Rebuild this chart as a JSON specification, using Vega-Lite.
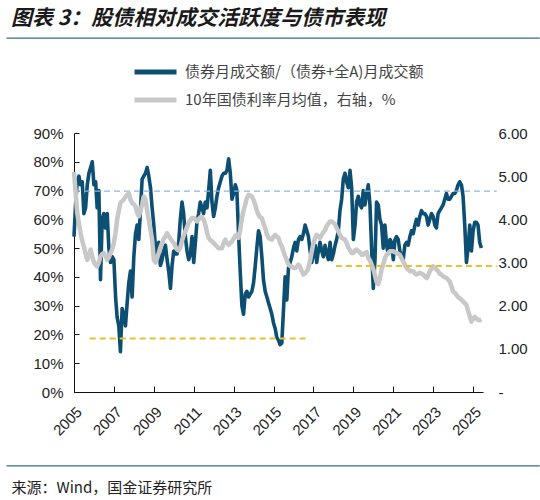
{
"$schema": "https://vega.github.io/schema/vega-lite/v6.json",
"width": 409,
"height": 259,
"autosize": {"type": "none"},
"padding": {"left": 74, "top": 133, "right": 57, "bottom": 108},
"background": "white",
"title": {"text": "图表 3：股债相对成交活跃度与债市表现", "anchor": "start", "frame": "group", "dx": -63, "fontSize": 21, "font": "Noto Sans CJK SC", "fontWeight": "bold", "fontStyle": "italic", "color": "#1a1a1a", "offset": 8},
"config": {"view": {"stroke": null}, "axis": {"grid": false, "labelFont": "Liberation Sans", "labelFontSize": 15, "labelColor": "#222"}},
"datasets": {
"monthly": [
{"date":"2005-01","share":54,"yield":5.1},{"date":"2005-02","share":66,"yield":4.6},{"date":"2005-03","share":73,"yield":4.15},{"date":"2005-04","share":75,"yield":3.9},{"date":"2005-05","share":72,"yield":3.68},{"date":"2005-06","share":73,"yield":3.5},{"date":"2005-07","share":62,"yield":3.37},{"date":"2005-08","share":64,"yield":3.2},{"date":"2005-09","share":72,"yield":3.06},{"date":"2005-10","share":76,"yield":3.15},{"date":"2005-11","share":78,"yield":3.3},{"date":"2005-12","share":80,"yield":3.15},
{"date":"2006-01","share":72,"yield":3.0},{"date":"2006-02","share":73,"yield":2.95},{"date":"2006-03","share":64,"yield":2.91},{"date":"2006-04","share":70,"yield":3.0},{"date":"2006-05","share":39,"yield":3.14},{"date":"2006-06","share":60,"yield":3.2},{"date":"2006-07","share":62,"yield":3.22},{"date":"2006-08","share":57,"yield":3.15},{"date":"2006-09","share":62,"yield":3.06},{"date":"2006-10","share":50,"yield":3.12},{"date":"2006-11","share":45,"yield":3.22},{"date":"2006-12","share":47,"yield":3.3},
{"date":"2007-01","share":46,"yield":3.45},{"date":"2007-02","share":33,"yield":3.7},{"date":"2007-03","share":26,"yield":3.99},{"date":"2007-04","share":23,"yield":4.2},{"date":"2007-05","share":14,"yield":4.38},{"date":"2007-06","share":29,"yield":4.42},{"date":"2007-07","share":27,"yield":4.46},{"date":"2007-08","share":23,"yield":4.52},{"date":"2007-09","share":31,"yield":4.57},{"date":"2007-10","share":38,"yield":4.61},{"date":"2007-11","share":42,"yield":4.45},{"date":"2007-12","share":33,"yield":4.38},
{"date":"2008-01","share":47,"yield":4.35},{"date":"2008-02","share":55,"yield":4.3},{"date":"2008-03","share":58,"yield":4.15},{"date":"2008-04","share":53,"yield":4.07},{"date":"2008-05","share":63,"yield":4.2},{"date":"2008-06","share":74,"yield":4.35},{"date":"2008-07","share":75,"yield":4.53},{"date":"2008-08","share":76,"yield":4.46},{"date":"2008-09","share":78,"yield":4.2},{"date":"2008-10","share":75,"yield":3.99},{"date":"2008-11","share":71,"yield":3.75},{"date":"2008-12","share":64,"yield":3.53},
{"date":"2009-01","share":58,"yield":3.06},{"date":"2009-02","share":50,"yield":3.0},{"date":"2009-03","share":47,"yield":3.1},{"date":"2009-04","share":52,"yield":3.22},{"date":"2009-05","share":44,"yield":3.35},{"date":"2009-06","share":46,"yield":3.45},{"date":"2009-07","share":49,"yield":3.55},{"date":"2009-08","share":51,"yield":3.6},{"date":"2009-09","share":46,"yield":3.68},{"date":"2009-10","share":42,"yield":3.62},{"date":"2009-11","share":36,"yield":3.55},{"date":"2009-12","share":44,"yield":3.5},
{"date":"2010-01","share":49,"yield":3.45},{"date":"2010-02","share":48,"yield":3.37},{"date":"2010-03","share":48,"yield":3.3},{"date":"2010-04","share":52,"yield":3.28},{"date":"2010-05","share":60,"yield":3.35},{"date":"2010-06","share":66,"yield":3.5},{"date":"2010-07","share":62,"yield":3.62},{"date":"2010-08","share":54,"yield":3.72},{"date":"2010-09","share":49,"yield":3.82},{"date":"2010-10","share":46,"yield":3.92},{"date":"2010-11","share":48,"yield":3.98},{"date":"2010-12","share":54,"yield":4.03},
{"date":"2011-01","share":45,"yield":4.03},{"date":"2011-02","share":52,"yield":4.0},{"date":"2011-03","share":59,"yield":3.95},{"date":"2011-04","share":62,"yield":4.0},{"date":"2011-05","share":66,"yield":4.05},{"date":"2011-06","share":64,"yield":4.05},{"date":"2011-07","share":62,"yield":4.0},{"date":"2011-08","share":66,"yield":3.88},{"date":"2011-09","share":64,"yield":3.7},{"date":"2011-10","share":70,"yield":3.57},{"date":"2011-11","share":77,"yield":3.52},{"date":"2011-12","share":66,"yield":3.49},
{"date":"2012-01","share":61,"yield":3.45},{"date":"2012-02","share":64,"yield":3.41},{"date":"2012-03","share":68,"yield":3.37},{"date":"2012-04","share":71,"yield":3.33},{"date":"2012-05","share":73,"yield":3.33},{"date":"2012-06","share":75,"yield":3.33},{"date":"2012-07","share":76,"yield":3.45},{"date":"2012-08","share":76,"yield":3.53},{"date":"2012-09","share":77,"yield":3.45},{"date":"2012-10","share":81,"yield":3.41},{"date":"2012-11","share":76,"yield":3.45},{"date":"2012-12","share":67,"yield":3.49},
{"date":"2013-01","share":69,"yield":3.55},{"date":"2013-02","share":72,"yield":3.62},{"date":"2013-03","share":70,"yield":3.64},{"date":"2013-04","share":55,"yield":3.57},{"date":"2013-05","share":42,"yield":3.75},{"date":"2013-06","share":30,"yield":4.03},{"date":"2013-07","share":27,"yield":4.2},{"date":"2013-08","share":34,"yield":4.34},{"date":"2013-09","share":35,"yield":4.5},{"date":"2013-10","share":33,"yield":4.57},{"date":"2013-11","share":34,"yield":4.55},{"date":"2013-12","share":35,"yield":4.53},
{"date":"2014-01","share":38,"yield":4.45},{"date":"2014-02","share":44,"yield":4.34},{"date":"2014-03","share":50,"yield":4.2},{"date":"2014-04","share":56,"yield":4.11},{"date":"2014-05","share":54,"yield":4.05},{"date":"2014-06","share":47,"yield":4.03},{"date":"2014-07","share":39,"yield":3.9},{"date":"2014-08","share":35,"yield":3.8},{"date":"2014-09","share":33,"yield":3.65},{"date":"2014-10","share":31,"yield":3.57},{"date":"2014-11","share":29,"yield":3.55},{"date":"2014-12","share":27,"yield":3.53},
{"date":"2015-01","share":24,"yield":3.6},{"date":"2015-02","share":22,"yield":3.64},{"date":"2015-03","share":19,"yield":3.6},{"date":"2015-04","share":18,"yield":3.57},{"date":"2015-05","share":16.5,"yield":3.45},{"date":"2015-06","share":17,"yield":3.38},{"date":"2015-07","share":28,"yield":3.26},{"date":"2015-08","share":40,"yield":3.15},{"date":"2015-09","share":32,"yield":3.05},{"date":"2015-10","share":43,"yield":2.95},{"date":"2015-11","share":45,"yield":2.92},{"date":"2015-12","share":47,"yield":2.9},
{"date":"2016-01","share":50,"yield":2.88},{"date":"2016-02","share":52,"yield":2.87},{"date":"2016-03","share":49,"yield":2.9},{"date":"2016-04","share":53,"yield":2.95},{"date":"2016-05","share":54,"yield":2.9},{"date":"2016-06","share":53,"yield":2.8},{"date":"2016-07","share":55,"yield":2.72},{"date":"2016-08","share":58,"yield":2.75},{"date":"2016-09","share":56,"yield":2.8},{"date":"2016-10","share":54,"yield":2.87},{"date":"2016-11","share":49,"yield":3.05},{"date":"2016-12","share":45,"yield":3.26},
{"date":"2017-01","share":48,"yield":3.45},{"date":"2017-02","share":51,"yield":3.57},{"date":"2017-03","share":45,"yield":3.64},{"date":"2017-04","share":49,"yield":3.6},{"date":"2017-05","share":52,"yield":3.57},{"date":"2017-06","share":49,"yield":3.64},{"date":"2017-07","share":47,"yield":3.7},{"date":"2017-08","share":51,"yield":3.75},{"date":"2017-09","share":48,"yield":3.85},{"date":"2017-10","share":46,"yield":3.9},{"date":"2017-11","share":52,"yield":3.95},{"date":"2017-12","share":46,"yield":3.95},
{"date":"2018-01","share":48,"yield":3.92},{"date":"2018-02","share":51,"yield":3.88},{"date":"2018-03","share":53,"yield":3.8},{"date":"2018-04","share":56,"yield":3.72},{"date":"2018-05","share":63,"yield":3.64},{"date":"2018-06","share":67,"yield":3.57},{"date":"2018-07","share":74,"yield":3.55},{"date":"2018-08","share":76,"yield":3.53},{"date":"2018-09","share":73,"yield":3.45},{"date":"2018-10","share":71,"yield":3.35},{"date":"2018-11","share":77,"yield":3.28},{"date":"2018-12","share":71,"yield":3.22},
{"date":"2019-01","share":53,"yield":3.22},{"date":"2019-02","share":58,"yield":3.28},{"date":"2019-03","share":66,"yield":3.3},{"date":"2019-04","share":68,"yield":3.26},{"date":"2019-05","share":65,"yield":3.24},{"date":"2019-06","share":64,"yield":3.18},{"date":"2019-07","share":70,"yield":3.18},{"date":"2019-08","share":65,"yield":3.22},{"date":"2019-09","share":69,"yield":3.24},{"date":"2019-10","share":72,"yield":3.1},{"date":"2019-11","share":65,"yield":3.05},{"date":"2019-12","share":50,"yield":2.95},
{"date":"2020-01","share":36,"yield":2.85},{"date":"2020-02","share":46,"yield":2.7},{"date":"2020-03","share":66,"yield":2.55},{"date":"2020-04","share":65,"yield":2.5},{"date":"2020-05","share":60,"yield":2.64},{"date":"2020-06","share":58,"yield":2.85},{"date":"2020-07","share":50,"yield":2.95},{"date":"2020-08","share":58,"yield":3.1},{"date":"2020-09","share":51,"yield":3.18},{"date":"2020-10","share":48,"yield":3.22},{"date":"2020-11","share":53,"yield":3.26},{"date":"2020-12","share":52,"yield":3.26},
{"date":"2021-01","share":46,"yield":3.26},{"date":"2021-02","share":53,"yield":3.24},{"date":"2021-03","share":54,"yield":3.22},{"date":"2021-04","share":53,"yield":3.2},{"date":"2021-05","share":49,"yield":3.18},{"date":"2021-06","share":47,"yield":3.1},{"date":"2021-07","share":46,"yield":3.02},{"date":"2021-08","share":51,"yield":2.95},{"date":"2021-09","share":52,"yield":2.87},{"date":"2021-10","share":51,"yield":2.84},{"date":"2021-11","share":54,"yield":2.8},{"date":"2021-12","share":56,"yield":2.8},
{"date":"2022-01","share":55,"yield":2.8},{"date":"2022-02","share":58,"yield":2.75},{"date":"2022-03","share":60,"yield":2.72},{"date":"2022-04","share":58,"yield":2.74},{"date":"2022-05","share":61,"yield":2.76},{"date":"2022-06","share":63,"yield":2.74},{"date":"2022-07","share":62,"yield":2.72},{"date":"2022-08","share":62,"yield":2.68},{"date":"2022-09","share":61,"yield":2.64},{"date":"2022-10","share":58,"yield":2.7},{"date":"2022-11","share":60,"yield":2.8},{"date":"2022-12","share":62,"yield":2.86},
{"date":"2023-01","share":61,"yield":2.91},{"date":"2023-02","share":58,"yield":2.88},{"date":"2023-03","share":57,"yield":2.84},{"date":"2023-04","share":62,"yield":2.8},{"date":"2023-05","share":63,"yield":2.74},{"date":"2023-06","share":64,"yield":2.72},{"date":"2023-07","share":65,"yield":2.68},{"date":"2023-08","share":67,"yield":2.66},{"date":"2023-09","share":69,"yield":2.64},{"date":"2023-10","share":67,"yield":2.6},{"date":"2023-11","share":67,"yield":2.56},{"date":"2023-12","share":68,"yield":2.45},
{"date":"2024-01","share":69,"yield":2.33},{"date":"2024-02","share":69,"yield":2.3},{"date":"2024-03","share":70,"yield":2.25},{"date":"2024-04","share":72,"yield":2.2},{"date":"2024-05","share":73,"yield":2.17},{"date":"2024-06","share":72,"yield":2.14},{"date":"2024-07","share":68,"yield":2.1},{"date":"2024-08","share":58,"yield":2.06},{"date":"2024-09","share":45,"yield":2.02},{"date":"2024-10","share":50,"yield":1.88},{"date":"2024-11","share":58,"yield":1.75},{"date":"2024-12","share":49,"yield":1.63},
{"date":"2025-01","share":56,"yield":1.7},{"date":"2025-02","share":59,"yield":1.74},{"date":"2025-03","share":59,"yield":1.7},{"date":"2025-04","share":58,"yield":1.67},{"date":"2025-05","share":52,"yield":1.66},{"date":"2025-06","share":50,"yield":1.68}
],
"leftRefs": [
{"line":"均值","start":"2005-01-01","end":"2026-03-10","value":69.8},
{"line":"低位","start":"2005-10-15","end":"2016-08-15","value":18.6}
],
"rightRefs": [
{"line":"利率","start":"2018-02-15","end":"2026-03-10","value":2.92}
]
},
"layer": [
{
"data": {"name": "monthly"},
"mark": {"type": "line", "strokeWidth": 3.6, "strokeJoin": "round", "clip": false},
"encoding": {
"x": {"field": "date", "type": "temporal",
"scale": {"domain": [{"year": 2005, "month": 1, "date": 1}, {"year": 2025, "month": 7, "date": 1}]},
"axis": {"orient": "bottom", "values": [{"year":2005},{"year":2007},{"year":2009},{"year":2011},{"year":2013},{"year":2015},{"year":2017},{"year":2019},{"year":2021},{"year":2023},{"year":2025}],
"format": "%Y", "labelAngle": -45, "labelOverlap": false, "domain": true, "ticks": true, "tickSize": -6, "tickColor": "#111", "domainColor": "#111", "domainWidth": 1, "labelPadding": 18,
"title": "来源：Wind，国金证券研究所", "titleX": -63, "titleY": 95, "titleAlign": "left", "titleAngle": 0, "titleBaseline": "middle",
"titleFont": "Noto Sans CJK SC", "titleFontSize": 15, "titleFontWeight": "normal", "titleColor": "#222"}},
"y": {"field": "share", "type": "quantitative",
"scale": {"domain": [0, 90], "nice": false},
"axis": {"orient": "left", "values": [0,10,20,30,40,50,60,70,80,90], "labelExpr": "datum.value + '%'", "labelOverlap": false, "domain": true, "ticks": true, "tickSize": -5, "tickColor": "#111", "domainColor": "#111", "domainWidth": 1, "labelPadding": 16, "title": null}},
"color": {"datum": "债券月成交额/（债券+全A)月成交额", "type": "nominal",
"scale": {"domain": ["债券月成交额/（债券+全A)月成交额", "10年国债利率月均值，右轴，%"], "range": ["#0c4f73", "#c8c8c8"]},
"legend": {"orient": "none", "legendX": 58, "legendY": -71, "direction": "vertical", "title": null, "symbolType": "stroke", "symbolSize": 1764, "symbolStrokeWidth": 5, "clipHeight": 20, "labelFont": "Noto Sans CJK SC", "labelFontSize": 15, "labelColor": "#444", "rowPadding": 8, "labelOffset": 6, "labelLimit": 400}}
}
},
{
"data": {"name": "leftRefs"},
"mark": {"type": "rule", "strokeDash": [6, 4], "clip": false},
"encoding": {
"x": {"field": "start", "type": "temporal"},
"x2": {"field": "end"},
"y": {"field": "value", "type": "quantitative", "scale": {"domain": [0, 90], "nice": false}, "axis": null},
"stroke": {"field": "line", "type": "nominal", "scale": {"domain": ["均值", "低位"], "range": ["#8bb6d6", "#e8c22a"]}, "legend": null},
"strokeWidth": {"field": "line", "type": "nominal", "scale": {"domain": ["均值", "低位"], "range": [1.2, 2]}, "legend": null}
}
},
{
"data": {"values": [{"edge": "top"}]},
"mark": {"type": "rule", "color": "#2f6e8e", "strokeWidth": 1.3, "clip": false},
"encoding": {
"x": {"datum": {"year": 2001, "month": 8, "date": 15}, "type": "temporal"},
"x2": {"datum": {"year": 2028, "month": 5, "date": 5}},
"y": {"datum": 123, "type": "quantitative", "scale": {"domain": [0, 90], "nice": false}, "axis": null}
}
},
{
"data": {"values": [{"edge": "bottom"}]},
"mark": {"type": "rule", "color": "#2f6e8e", "strokeWidth": 1.3, "clip": false},
"encoding": {
"x": {"datum": {"year": 2001, "month": 8, "date": 15}, "type": "temporal"},
"x2": {"datum": {"year": 2028, "month": 5, "date": 5}},
"y": {"datum": -25.7, "type": "quantitative", "scale": {"domain": [0, 90], "nice": false}, "axis": null}
}
},
{
"data": {"name": "monthly"},
"mark": {"type": "line", "strokeWidth": 4.5, "strokeJoin": "round", "clip": false},
"encoding": {
"x": {"field": "date", "type": "temporal"},
"y": {"field": "yield", "type": "quantitative",
"scale": {"domain": [0, 6], "nice": false},
"axis": {"orient": "right", "values": [0,1,2,3,4,5,6], "labelExpr": "datum.value == 0 ? '-' : format(datum.value, '.2f')", "domain": false, "ticks": false, "labelPadding": 15, "labelAlign": "left", "title": null}},
"color": {"datum": "10年国债利率月均值，右轴，%", "type": "nominal"}
}
},
{
"data": {"name": "rightRefs"},
"mark": {"type": "rule", "strokeDash": [6, 4], "color": "#e8c22a", "strokeWidth": 2, "clip": false},
"encoding": {
"x": {"field": "start", "type": "temporal"},
"x2": {"field": "end"},
"y": {"field": "value", "type": "quantitative", "scale": {"domain": [0, 6], "nice": false}, "axis": null}
}
}
],
"resolve": {"scale": {"y": "independent"}, "axis": {"y": "independent"}}
}
